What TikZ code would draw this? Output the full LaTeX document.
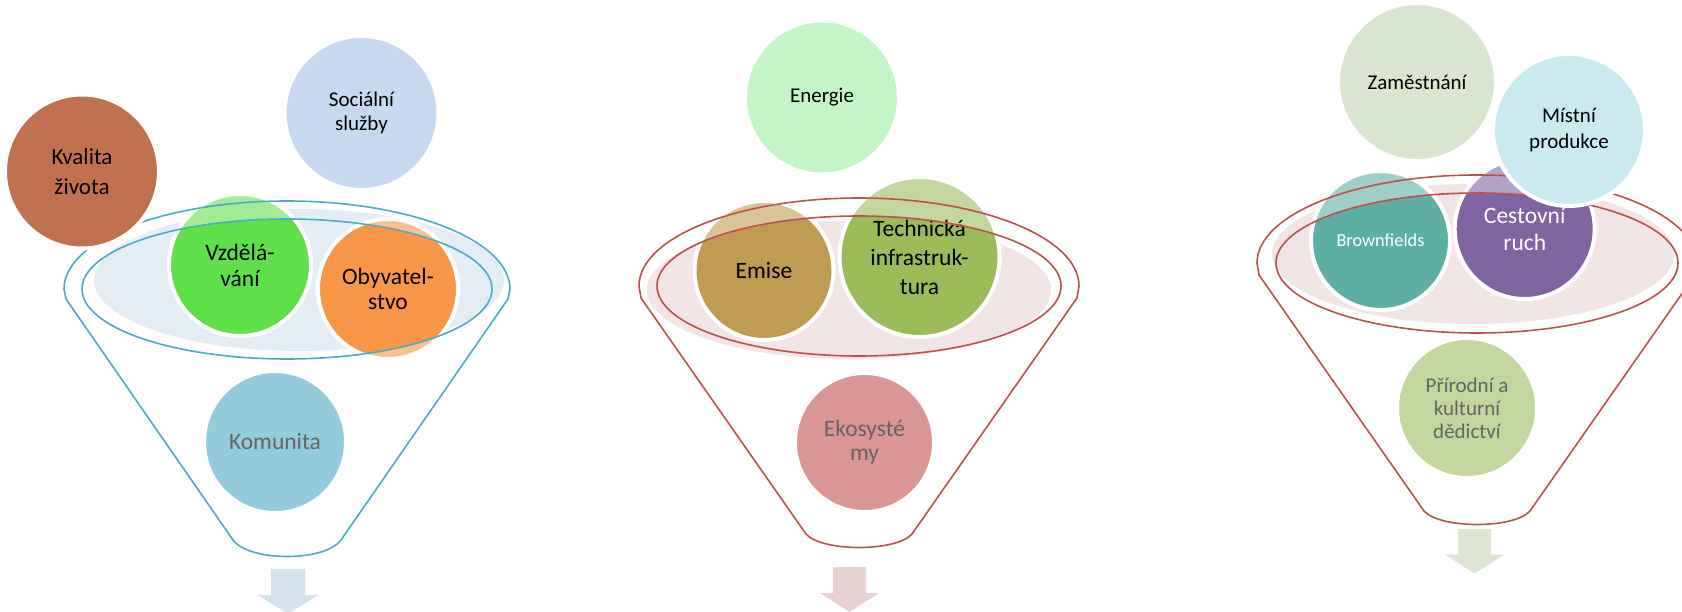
\documentclass[tikz,border=0pt]{standalone}
\usepackage{fontspec}
\setmainfont{Carlito}
\definecolor{lnA}{HTML}{4BACC6}
\definecolor{lnB}{HTML}{C0504D}
\definecolor{shA}{HTML}{E4EDF3}
\definecolor{shB}{HTML}{F2E5E5}
\definecolor{arA}{HTML}{D2E3EB}
\definecolor{arB}{HTML}{E8D1D1}
\definecolor{arC}{HTML}{DCE6D2}
\definecolor{cKval}{HTML}{C0714D}
\definecolor{cSoc}{HTML}{C6D9F1}
\definecolor{cVzd}{HTML}{5FE04A}
\definecolor{cVzdL}{HTML}{A1EC94}
\definecolor{cOby}{HTML}{F79646}
\definecolor{cObyL}{HTML}{FAC090}
\definecolor{cKom}{HTML}{93CDDD}
\definecolor{cEne}{HTML}{C3F5C6}
\definecolor{cEmi}{HTML}{BF9B52}
\definecolor{cEmiL}{HTML}{D9C496}
\definecolor{cTec}{HTML}{9BBB59}
\definecolor{cTecL}{HTML}{C3D69B}
\definecolor{cEko}{HTML}{D99694}
\definecolor{cZam}{HTML}{D9E5CF}
\definecolor{cMis}{HTML}{C9EAEF}
\definecolor{cBro}{HTML}{5DAFA4}
\definecolor{cBroL}{HTML}{9ED0C9}
\definecolor{cCes}{HTML}{8064A2}
\definecolor{cCesL}{HTML}{B2A2C8}
\definecolor{cPri}{HTML}{C3D69B}
\definecolor{txG}{HTML}{646464}
\begin{document}
\begin{tikzpicture}[x=1pt,y=1pt,
  bub/.style={circle, draw=white, line width=4pt, inner sep=0pt, align=center, text=black},
  big/.style={font=\fontsize{23.5}{26}\selectfont},
  small/.style={font=\fontsize{21}{24.5}\selectfont},
  funA/.style={draw=lnA, line width=1.6pt, line join=round},
  funB/.style={draw=lnB, line width=1.6pt, line join=round}]
\useasboundingbox (0,0) rectangle (1682,-612);
\clip (0,0) rectangle (1682,-612);
\fill[white] (0,0) rectangle (1682,-612);

% ================= Funnel 1 =================
\coordinate (f1) at (287,-289);
\fill[shA] (299,-280) ellipse[x radius=205, y radius=71];
\coordinate (pVzd) at (240,-265);
\coordinate (pOby) at (388,-289);
\fill[cVzdL] (pVzd) circle[radius=71];
\fill[cObyL] (pOby) circle[radius=70];
\begin{scope}
  \clip (f1) ellipse[x radius=205, y radius=70];
  \fill[cVzd] (pVzd) circle[radius=71];
  \fill[cOby] (pOby) circle[radius=70];
\end{scope}
\node[bub, big, minimum size=142pt] (vzd) at (pVzd) {Vzdělá-\\vání};
\node[bub, big, minimum size=140pt, font=\fontsize{23.5}{25.3}\selectfont] (oby) at (pOby) {Obyvatel-\\stvo};
\node[bub, big, fill=cKom, text=txG, minimum size=142pt] (kom) at (275,-442) {Komunita};
\draw[funA] (64,-289) arc[start angle=180, end angle=0, x radius=223, y radius=88]
  -- (508,-299) -- (341,-540) .. controls (325,-562) and (249,-562) .. (233,-540) -- (66,-299) -- cycle;
\draw[funA] (f1) ellipse[x radius=205, y radius=70];
\node[bub, fill=cKval, minimum size=154pt, font=\fontsize{23}{30}\selectfont] (kval) at (82,-171.5) {Kvalita\\života};
\node[bub, small, fill=cSoc, minimum size=154pt] (soc) at (361.5,-113) {Sociální\\služby};
\fill[arA] (271,-569) -- (305,-569) -- (305,-595) -- (318,-595) -- (288,-614) -- (258,-595) -- (271,-595) -- cycle;

% ================= Funnel 2 =================
\coordinate (f2) at (859,-286);
\fill[shB] (849,-290) ellipse[x radius=202, y radius=69];
\coordinate (pEmi) at (764,-270.5);
\coordinate (pTec) at (919.5,-257);
\fill[cEmiL] (pEmi) circle[radius=69.5];
\fill[cTecL] (pTec) circle[radius=80];
\begin{scope}
  \clip (f2) ellipse[x radius=202, y radius=70];
  \fill[cEmi] (pEmi) circle[radius=69.5];
  \fill[cTec] (pTec) circle[radius=80];
\end{scope}
\node[bub, big, minimum size=139pt] (emi) at (pEmi) {Emise};
\node[bub, big, minimum size=160pt, font=\fontsize{23.5}{29}\selectfont] (tec) at (pTec) {Technická\\infrastruk-\\tura};
\node[bub, fill=cEko, text=txG, minimum size=139pt, font=\fontsize{23.5}{24}\selectfont] (eko) at (864.5,-442.5) {Ekosysté\\my};
\draw[funB] (639,-286) arc[start angle=180, end angle=0, x radius=220, y radius=88]
  -- (1077,-298) -- (912,-534) .. controls (896,-552) and (822,-552) .. (806,-534) -- (641,-298) -- cycle;
\draw[funB] (f2) ellipse[x radius=202, y radius=70];
\node[bub, small, fill=cEne, minimum size=154pt] (ene) at (822,-97.5) {Energie};
\fill[arB] (833,-567) -- (866,-567) -- (866,-593) -- (879,-593) -- (849.5,-612) -- (820,-593) -- (833,-593) -- cycle;

% ================= Funnel 3 =================
\coordinate (f3) at (1477,-263);
\fill[shB] (1473,-254) ellipse[x radius=201, y radius=70];
\coordinate (pBro) at (1380.5,-240.5);
\coordinate (pCes) at (1524.7,-229);
\fill[cBroL] (pBro) circle[radius=69.5];
\fill[cCesL] (pCes) circle[radius=70];
\begin{scope}
  \clip (f3) ellipse[x radius=201, y radius=70];
  \fill[cBro] (pBro) circle[radius=69.5];
  \fill[cCes] (pCes) circle[radius=70];
\end{scope}
\node[bub, text=white, minimum size=139pt, font=\fontsize{18.3}{22}\selectfont] (bro) at (pBro) {Brownfields};
\node[bub, text=white, minimum size=140pt, font=\fontsize{23.5}{26.4}\selectfont] (ces) at (pCes) {Cestovní\\ruch};
\node[bub, fill=cPri, text=txG, minimum size=140pt, font=\fontsize{21}{23}\selectfont] (pri) at (1467,-408) {Přírodní a\\kulturní\\dědictví};
\draw[funB] (1257,-263) arc[start angle=180, end angle=0, x radius=220, y radius=88]
  -- (1695,-275) -- (1530,-511) .. controls (1514,-529) and (1440,-529) .. (1424,-511) -- (1259,-275) -- cycle;
\draw[funB] (f3) ellipse[x radius=201, y radius=70];
\node[bub, small, fill=cZam, minimum size=158pt] (zam) at (1417,-82) {Zaměstnání};
\node[bub, fill=cMis, minimum size=152pt, font=\fontsize{21}{26.7}\selectfont] (mis) at (1569,-130) {Místní\\produkce};
\fill[arC] (1458,-529) -- (1491,-529) -- (1491,-554.5) -- (1504,-554.5) -- (1474.5,-573.5) -- (1445,-554.5) -- (1458,-554.5) -- cycle;
\end{tikzpicture}
\end{document}
